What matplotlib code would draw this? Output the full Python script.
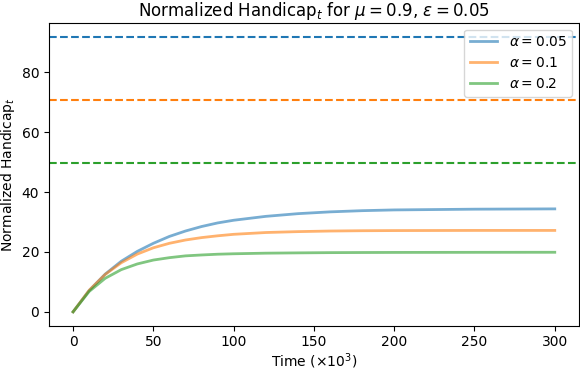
import numpy as np
import matplotlib
matplotlib.use('Agg')
import matplotlib.pyplot as plt

# Time axis (x10^3) and curves
time = [0, 10, 20, 30, 40, 50, 60, 70, 80, 90, 100, 120, 140, 160, 180, 200, 250, 300]
h_005 = [0, 7.1, 12.6, 16.9, 20.2, 22.9, 25.2, 27.0, 28.5, 29.7, 30.6, 31.9, 32.8, 33.4, 33.8, 34.05, 34.3, 34.4]
h_01 = [0, 7.2, 12.5, 16.4, 19.3, 21.4, 22.9, 24.0, 24.8, 25.4, 25.9, 26.5, 26.8, 27.0, 27.1, 27.15, 27.2, 27.2]
h_02 = [0, 6.8, 11.2, 14.1, 16.0, 17.3, 18.1, 18.7, 19.0, 19.25, 19.4, 19.6, 19.7, 19.78, 19.82, 19.85, 19.88, 19.9]
bounds = [91.9, 70.8, 49.7]  # dashed upper bounds
alphas = ['0.05', '0.1', '0.2']
colors = ['tab:blue', 'tab:orange', 'tab:green']

fig, ax = plt.subplots(figsize=(5.8, 3.7), dpi=100)
fig.subplots_adjust(left=0.0845, right=0.998, top=0.9386, bottom=0.12)

for h, a, c, b in zip([h_005, h_01, h_02], alphas, colors, bounds):
    ax.plot(time, h, color=c, alpha=0.6, linewidth=2, label=r'$\alpha = ' + a + '$')
    ax.axhline(b, color=c, linestyle='--', linewidth=1.5)

ax.set_xlim(-15, 315)
ax.set_ylim(-4.6, 96.6)
ax.set_xlabel(r'Time ($\times 10^3$)', labelpad=1.5)
ax.set_ylabel(r'Normalized Handicap$_t$', labelpad=3)
ax.set_title(r'Normalized Handicap$_t$ for $\mu = 0.9$, $\epsilon = 0.05$', pad=5)
ax.legend(loc='upper right')

fig.savefig('out.png', dpi=100)
